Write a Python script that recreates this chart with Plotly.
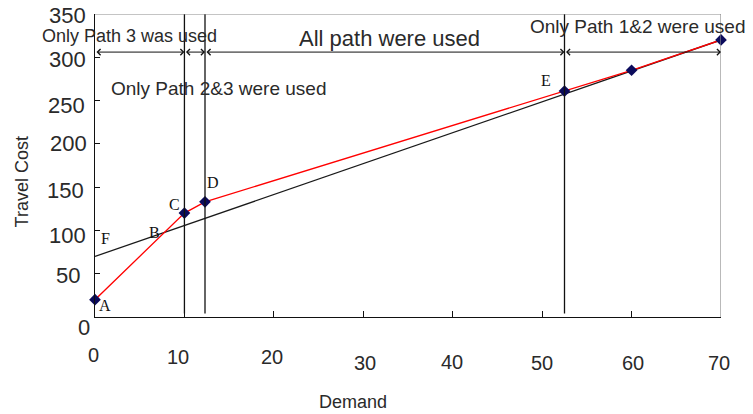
import plotly.graph_objects as go

# Equilibrium travel cost along the demand axis
demand_pts = [0, 10, 12.3, 52.5, 60, 70]
cost_pts = [20, 120, 133, 261, 285, 320]
point_letters = ["A", "C", "D", "E", "", ""]

# Reference straight line (starts at F)
ref_demand = [0, 70]
ref_cost = [70, 320]

# Demand values where the set of used paths changes
boundaries = [10, 12.3, 52.5]
regime_level = 306
regime_texts = ["Only Path 3 was used", "All path were used",
                "Only Path 1&2 were used", "Only Path 2&3 were used"]
regime_x = [3.86, 32.96, 60.7, 13.84]
regime_y = [324.5, 321.8, 336.0, 264.0]
regime_size = [18, 22, 19, 19]

x_ticks = [0, 10, 20, 30, 40, 50, 60, 70]
y_ticks = [0, 50, 100, 150, 200, 250, 300, 350]

SANS = "Liberation Sans, Arial, sans-serif"
SERIF = "Liberation Serif, DejaVu Serif, serif"
TXT = "#2a2a2a"

fig = go.Figure()

fig.add_trace(go.Scatter(
    x=ref_demand, y=ref_cost, mode="lines",
    line=dict(color="#1a1a1a", width=1.3), hoverinfo="skip", showlegend=False))

fig.add_trace(go.Scatter(
    x=demand_pts, y=cost_pts, mode="lines+markers",
    line=dict(color="#ff0000", width=1.3),
    marker=dict(symbol="diamond", size=9, color="#0b0b5c"),
    cliponaxis=False, showlegend=False))

# vertical separators
for b in boundaries:
    fig.add_shape(type="line", xref="x", yref="y", x0=b, x1=b, y0=4, y1=350,
                  line=dict(color="#111", width=1.3))

# frame: gray top and right edges
fig.add_shape(type="line", xref="x", yref="y", x0=0, x1=70, y0=350, y1=350,
              line=dict(color="#8a8a8a", width=1.2))
fig.add_shape(type="line", xref="x", yref="y", x0=70, x1=70, y0=0, y1=350,
              line=dict(color="#8a8a8a", width=1.2))

# double arrows marking each regime
edges = [0] + boundaries + [70]
for a, b in zip(edges[:-1], edges[1:]):
    fig.add_annotation(x=b, y=regime_level, ax=a, ay=regime_level,
                       xref="x", yref="y", axref="x", ayref="y", text="",
                       showarrow=True, arrowside="end+start", arrowhead=4,
                       startarrowhead=4, arrowsize=1.2, startarrowsize=1.2,
                       arrowwidth=1, arrowcolor="#111")

for t, x, y, s in zip(regime_texts, regime_x, regime_y, regime_size):
    fig.add_annotation(x=x, y=y, xref="x", yref="y", text=t, showarrow=False,
                       font=dict(family=SANS, size=s, color=TXT))

# point letters
letter_font = dict(family=SERIF, size=16, color="#111")
letter_shift = {"A": (10, -6), "C": (-10, 9), "D": (8, 19), "E": (-19, 11)}
for lab, x, y in zip(point_letters, demand_pts, cost_pts):
    if lab:
        dx, dy = letter_shift[lab]
        fig.add_annotation(x=x, y=y, xref="x", yref="y", text=lab, showarrow=False,
                           xshift=dx, yshift=dy, font=letter_font)

# B: where the red segment A-C crosses the reference line; F: start of reference line
s_red = (cost_pts[1] - cost_pts[0]) / (demand_pts[1] - demand_pts[0])
s_ref = (ref_cost[1] - ref_cost[0]) / (ref_demand[1] - ref_demand[0])
bx = (ref_cost[0] - cost_pts[0]) / (s_red - s_ref)
by = cost_pts[0] + s_red * bx
fig.add_annotation(x=bx, y=by, xref="x", yref="y", text="B", showarrow=False,
                   xshift=-10, yshift=0, font=letter_font)
fig.add_annotation(x=ref_demand[0], y=ref_cost[0], xref="x", yref="y", text="F",
                   showarrow=False, xshift=10, yshift=18, font=letter_font)

# tick labels
x_lab_dx = [-2, -6, -2, 2, -1, 0, 1.5, -2]
x_lab_dy = [38, 40, 40, 46, 45, 46, 46, 46]
for v, dx, dy in zip(x_ticks, x_lab_dx, x_lab_dy):
    fig.add_annotation(x=v, y=0, xref="x", yref="paper", text=str(v), showarrow=False,
                       xshift=dx, yshift=-dy, yanchor="middle",
                       font=dict(family=SANS, size=20, color=TXT))
y_lab_dx = [-3, -13, -7, -9, -6, -8, -7, -7]
y_lab_dy = [10, 1.3, 4.6, 3, 0, 4.5, 2, 1]
for v, dx, dy in zip(y_ticks, y_lab_dx, y_lab_dy):
    fig.add_annotation(x=0, y=v, xref="x", yref="y", text=str(v), showarrow=False,
                       xanchor="right", xshift=dx, yshift=-dy, yanchor="middle",
                       font=dict(family=SANS, size=22, color=TXT))

# axis titles
fig.add_annotation(x=(353 - 95) / 626, y=-(401.7 - 317) / 303, xref="paper", yref="paper",
                   text="Demand", showarrow=False, yanchor="middle",
                   font=dict(family=SANS, size=18, color=TXT))
fig.add_annotation(x=-(95 - 21.7) / 626, y=(317 - 181.7) / 303, xref="paper", yref="paper",
                   text="Travel Cost", showarrow=False, textangle=-90,
                   xanchor="center", yanchor="middle",
                   font=dict(family=SANS, size=18, color=TXT))

fig.update_xaxes(range=[0, 70], tickvals=x_ticks, showticklabels=False,
                 ticks="inside", ticklen=6, tickcolor="#111", showgrid=False,
                 zeroline=False, showline=True, linecolor="#111", linewidth=1.3)
fig.update_yaxes(range=[0, 350], tickvals=y_ticks, showticklabels=False,
                 ticks="inside", ticklen=5, tickcolor="#111", showgrid=False,
                 zeroline=False, showline=True, linecolor="#111", linewidth=1.3)

fig.update_layout(width=753, height=414, margin=dict(l=95, r=32, t=14, b=97),
                  plot_bgcolor="white", paper_bgcolor="white", showlegend=False)

fig.write_html("out.html")
